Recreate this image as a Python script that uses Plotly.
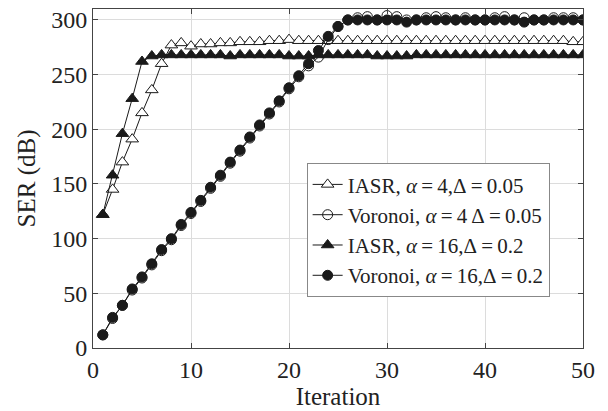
import plotly.graph_objects as go

iterations = list(range(1, 51))

iasr_a4 = [122, 145, 170, 191, 215, 236, 260, 277, 279, 276,
           278, 278, 279, 279, 280, 280, 280, 281, 281, 282,
           281, 281, 281, 281, 281, 281, 281, 281, 281, 281,
           281, 281, 281, 281, 281, 281, 281, 281, 281, 281,
           281, 281, 281, 281, 281, 281, 281, 281, 280, 280]

voronoi_a4 = [12, 27, 39, 53, 64, 76, 89, 99, 112, 123,
              134, 146, 157, 169, 180, 192, 203, 214, 225, 237,
              248, 258, 266, 282, 294, 300, 302, 303, 300, 304,
              303, 300, 300, 302, 303, 302, 300, 302, 300, 300,
              302, 303, 300, 302, 300, 300, 302, 302, 302, 300]

iasr_a16 = [122, 158, 196, 228, 262, 267, 268, 268, 268, 268,
            268, 268, 268, 267, 268, 268, 268, 268, 268, 267,
            267, 267, 268, 268, 268, 268, 268, 268, 267, 267,
            267, 267, 268, 268, 268, 268, 268, 268, 268, 268,
            268, 268, 268, 268, 268, 268, 268, 268, 268, 268]

voronoi_a16 = [12, 28, 39, 54, 65, 77, 90, 100, 113, 124,
               135, 147, 158, 170, 181, 193, 204, 215, 226, 238,
               249, 260, 272, 285, 294, 300, 300, 300, 300, 300,
               300, 298, 300, 300, 300, 300, 300, 300, 300, 300,
               300, 300, 300, 298, 300, 300, 300, 300, 300, 300]

names = ["IASR, <i>α</i>\u2009=\u20094,Δ\u2009=\u20090.05",
         "Voronoi, <i>α</i>\u2009=\u20094 Δ\u2009=\u20090.05",
         "IASR, <i>α</i>\u2009=\u200916,Δ\u2009=\u20090.2",
         "Voronoi, <i>α</i>\u2009=\u200916,Δ\u2009=\u20090.2"]

ink = "#1a1a1a"
fig = go.Figure()
fig.add_trace(go.Scatter(x=iterations, y=iasr_a4, name=names[0], mode="lines+markers",
                         line=dict(color=ink, width=1),
                         marker=dict(symbol="triangle-up", size=11, color="white",
                                     line=dict(color=ink, width=1))))
fig.add_trace(go.Scatter(x=iterations, y=voronoi_a4, name=names[1], mode="lines+markers",
                         line=dict(color=ink, width=1),
                         marker=dict(symbol="circle-open", size=10, color=ink,
                                     line=dict(color=ink, width=1))))
fig.add_trace(go.Scatter(x=iterations, y=iasr_a16, name=names[2], mode="lines+markers",
                         line=dict(color=ink, width=1),
                         marker=dict(symbol="triangle-up", size=11, color=ink,
                                     line=dict(color=ink, width=1))))
fig.add_trace(go.Scatter(x=iterations, y=voronoi_a16, name=names[3], mode="lines+markers",
                         line=dict(color=ink, width=1),
                         marker=dict(symbol="circle", size=10, color=ink,
                                     line=dict(color=ink, width=1))))

font_family = "Liberation Serif, Times New Roman, serif"
axis_common = dict(showline=True, linecolor="#444", linewidth=1, mirror="ticks",
                   ticks="inside", ticklen=5, tickcolor="#444",
                   showgrid=True, gridcolor="#dcdcdc", gridwidth=1, zeroline=False,
                   tickfont=dict(family=font_family, size=24, color="#222"))

fig.update_layout(
    width=608, height=411,
    margin=dict(l=93, r=25, t=7, b=63),
    plot_bgcolor="white", paper_bgcolor="white",
    font=dict(family=font_family, color="#222"),
    xaxis=dict(range=[0, 50], tickvals=[0, 10, 20, 30, 40, 50],
               title=dict(text="Iteration", font=dict(family=font_family, size=25), standoff=2),
               **axis_common),
    yaxis=dict(range=[0, 310], tickvals=[0, 50, 100, 150, 200, 250, 300],
               title=dict(text="SER (dB)", font=dict(family=font_family, size=25), standoff=8),
               **axis_common),
    legend=dict(x=0.436, y=0.545, xanchor="left", yanchor="top",
                bgcolor="white", bordercolor="#888", borderwidth=1,
                font=dict(family=font_family, size=21, color="#222"),
                tracegroupgap=0, itemwidth=30),
    showlegend=True,
)

fig.write_html("out.html", config={"displayModeBar": False},
               post_script="document.body.style.margin='0px';")
